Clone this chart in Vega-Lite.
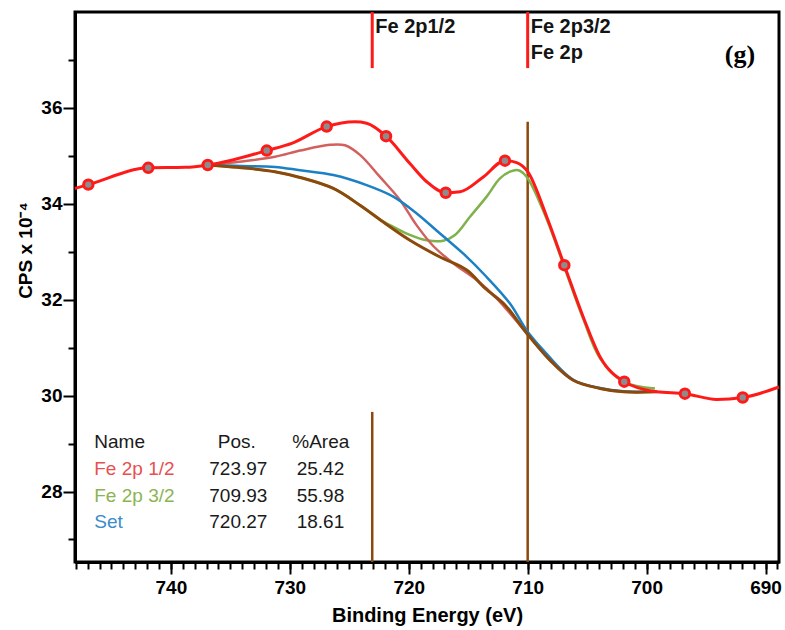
{
"$schema":"https://vega.github.io/schema/vega-lite/v6.json",
"width":704,"height":550,"autosize":"none",
"padding":{"left":75,"top":12,"right":6,"bottom":68},
"background":"white",
"config":{"view":{"stroke":"black","strokeWidth":3},
 "axis":{"labelFont":"Liberation Sans","titleFont":"Liberation Sans","labelColor":"black","titleColor":"black","tickColor":"black","domainColor":"black","grid":false}},
"datasets":{
 "env":[{"E":748.06,"V":34.32},{"E":746.94,"V":34.40},{"E":741.90,"V":34.75},{"E":738.81,"V":34.76},{"E":736.90,"V":34.81},{"E":734.89,"V":34.91},{"E":731.94,"V":35.11},{"E":729.84,"V":35.26},{"E":726.90,"V":35.61},{"E":724.52,"V":35.71},{"E":723.54,"V":35.68},{"E":721.91,"V":35.41},{"E":719.90,"V":34.84},{"E":718.49,"V":34.46},{"E":716.89,"V":34.23},{"E":715.69,"V":34.25},{"E":713.73,"V":34.56},{"E":711.91,"V":34.90},{"E":710.93,"V":34.86},{"E":709.97,"V":34.66},{"E":708.40,"V":33.73},{"E":706.92,"V":32.72},{"E":705.33,"V":31.64},{"E":703.92,"V":30.81},{"E":701.88,"V":30.29},{"E":699.15,"V":30.08},{"E":696.78,"V":30.04},{"E":694.11,"V":29.92},{"E":691.92,"V":29.96},{"E":688.87,"V":30.18}],
 "markers":[{"E":746.94,"V":34.40},{"E":741.90,"V":34.75},{"E":736.90,"V":34.81},{"E":731.94,"V":35.11},{"E":726.90,"V":35.61},{"E":721.91,"V":35.41},{"E":716.89,"V":34.23},{"E":711.91,"V":34.90},{"E":706.92,"V":32.72},{"E":701.88,"V":30.29},{"E":696.78,"V":30.04},{"E":691.92,"V":29.96}],
 "p12":[{"E":736.90,"V":34.81},{"E":734.05,"V":34.88},{"E":731.25,"V":34.98},{"E":729.14,"V":35.11},{"E":726.62,"V":35.23},{"E":725.36,"V":35.22},{"E":724.10,"V":35.02},{"E":722.42,"V":34.56},{"E":720.74,"V":34.08},{"E":719.33,"V":33.55},{"E":717.94,"V":33.12},{"E":716.26,"V":32.76},{"E":714.29,"V":32.41},{"E":712.61,"V":32.03},{"E":710.08,"V":31.30},{"E":708.13,"V":30.74},{"E":706.17,"V":30.32},{"E":703.92,"V":30.15},{"E":701.96,"V":30.08},{"E":699.15,"V":30.08}],
 "p32":[{"E":736.90,"V":34.81},{"E":733.49,"V":34.74},{"E":731.25,"V":34.67},{"E":729.14,"V":34.55},{"E":726.34,"V":34.32},{"E":724.10,"V":33.97},{"E":722.14,"V":33.63},{"E":721.30,"V":33.52},{"E":720.17,"V":33.38},{"E":718.49,"V":33.24},{"E":717.10,"V":33.23},{"E":716.11,"V":33.35},{"E":714.85,"V":33.73},{"E":713.45,"V":34.15},{"E":712.33,"V":34.53},{"E":711.49,"V":34.67},{"E":710.79,"V":34.70},{"E":710.08,"V":34.56},{"E":708.40,"V":33.68},{"E":706.92,"V":32.68},{"E":705.33,"V":31.60},{"E":703.92,"V":30.78},{"E":701.88,"V":30.28},{"E":699.30,"V":30.15}],
 "set":[{"E":736.90,"V":34.81},{"E":734.05,"V":34.79},{"E":731.25,"V":34.77},{"E":729.14,"V":34.70},{"E":726.34,"V":34.60},{"E":723.54,"V":34.39},{"E":721.30,"V":34.15},{"E":719.33,"V":33.80},{"E":717.37,"V":33.38},{"E":715.41,"V":32.96},{"E":713.59,"V":32.51},{"E":711.49,"V":31.92},{"E":710.08,"V":31.36},{"E":708.69,"V":30.95},{"E":706.17,"V":30.33},{"E":703.92,"V":30.16},{"E":701.96,"V":30.09},{"E":699.15,"V":30.08}],
 "bg":[{"E":736.90,"V":34.81},{"E":733.49,"V":34.74},{"E":731.25,"V":34.67},{"E":729.14,"V":34.55},{"E":726.34,"V":34.32},{"E":724.10,"V":33.97},{"E":722.14,"V":33.62},{"E":719.90,"V":33.24},{"E":717.37,"V":32.89},{"E":715.13,"V":32.62},{"E":713.59,"V":32.24},{"E":711.91,"V":31.89},{"E":710.08,"V":31.30},{"E":708.13,"V":30.74},{"E":706.17,"V":30.32},{"E":703.92,"V":30.15},{"E":701.96,"V":30.08},{"E":699.15,"V":30.08}],
 "brownRules":[{"E":723.07,"V1":26.53,"V2":29.66},{"E":710.0,"V1":26.53,"V2":35.71}],
 "redRules":[{"E":723.07,"V1":38.0,"V2":36.83},{"E":710.0,"V1":38.0,"V2":36.83}],
 "peaks":[{"E":723.07,"V":37.555,"label":"Fe 2p1/2"},{"E":710.0,"V":37.555,"label":"Fe 2p3/2"},{"E":710.0,"V":37.01,"label":"Fe 2p"}],
 "tag":[{"E":692.15,"V":36.94,"label":"(g)"}],
 "table":[
  {"E":746.44,"V":28.90,"text":"Name","kind":"plain"},
  {"E":736.06,"V":28.90,"text":"Pos.","kind":"plain"},
  {"E":729.79,"V":28.90,"text":"%Area","kind":"plain"},
  {"E":746.44,"V":28.34,"text":"Fe 2p 1/2","kind":"Fe 2p 1/2"},
  {"E":736.77,"V":28.34,"text":"723.97","kind":"plain"},
  {"E":729.42,"V":28.34,"text":"25.42","kind":"plain"},
  {"E":746.44,"V":27.78,"text":"Fe 2p 3/2","kind":"Fe 2p 3/2"},
  {"E":736.77,"V":27.78,"text":"709.93","kind":"plain"},
  {"E":729.42,"V":27.78,"text":"55.98","kind":"plain"},
  {"E":746.44,"V":27.23,"text":"Set","kind":"Set"},
  {"E":736.77,"V":27.23,"text":"720.27","kind":"plain"},
  {"E":729.42,"V":27.23,"text":"18.61","kind":"plain"}]
},
"encoding":{
 "x":{"field":"E","type":"quantitative","scale":{"domain":[688.87,748.06],"reverse":true,"nice":false,"zero":false},"axis":null},
 "y":{"field":"V","type":"quantitative","scale":{"domain":[26.53,38.0],"nice":false,"zero":false},"axis":null}
},
"layer":[
 {"data":{"name":"brownRules"},"mark":{"type":"rule","color":"#8b4a0c","strokeWidth":2.5},
  "encoding":{
   "x":{"field":"E","type":"quantitative","scale":{"domain":[688.87,748.06],"reverse":true,"nice":false,"zero":false},
        "axis":{"orient":"bottom","values":[690,700,710,720,730,740],"format":"d","title":"Binding Energy (eV)","tickSize":12,"tickWidth":2,"labelFontSize":19,"labelFontWeight":"bold","labelPadding":4,"titleFontSize":20,"titleFontWeight":"bold","titlePadding":8,"domain":true,"domainWidth":3}},
   "y":{"field":"V1","type":"quantitative","scale":{"domain":[26.53,38.0],"nice":false,"zero":false},
        "axis":{"orient":"left","values":[28,30,32,34,36],"format":"d","title":"CPS x 10⁻⁴","tickSize":12,"tickWidth":2,"labelFontSize":19,"labelFontWeight":"bold","labelPadding":1,"titleFontSize":19,"titleFontWeight":"bold","titlePadding":5,"titleY":238,"domain":true,"domainWidth":3}},
   "y2":{"field":"V2"}}},
 {"data":{"name":"redRules"},"mark":{"type":"rule","color":"#ff1a1a","strokeWidth":3},
  "encoding":{
   "x":{"field":"E","type":"quantitative","scale":{"domain":[688.87,748.06],"reverse":true,"nice":false,"zero":false},
        "axis":{"orient":"bottom","values":[689,690,691,692,693,694,695,696,697,698,699,700,701,702,703,704,705,706,707,708,709,710,711,712,713,714,715,716,717,718,719,720,721,722,723,724,725,726,727,728,729,730,731,732,733,734,735,736,737,738,739,740,741,742,743,744,745,746,747,748],"tickSize":7,"tickWidth":2,"labels":false,"domain":false,"title":null}},
   "y":{"field":"V1","type":"quantitative","scale":{"domain":[26.53,38.0],"nice":false,"zero":false},
        "axis":{"orient":"left","values":[27,29,31,33,35,37],"tickSize":7,"tickWidth":2,"labels":false,"domain":false,"title":null}},
   "y2":{"field":"V2"}}},
 {"data":{"name":"p32"},"mark":{"type":"line","color":"#7fb24a","strokeWidth":2.5,"interpolate":"catmull-rom"},"encoding":{}},
 {"data":{"name":"p12"},"mark":{"type":"line","color":"#d2605e","strokeWidth":2.5,"interpolate":"catmull-rom"},"encoding":{}},
 {"data":{"name":"set"},"mark":{"type":"line","color":"#1c80c4","strokeWidth":2.5,"interpolate":"catmull-rom"},"encoding":{}},
 {"data":{"name":"bg"},"mark":{"type":"line","color":"#8b4a0c","strokeWidth":3,"interpolate":"catmull-rom"},"encoding":{}},
 {"data":{"name":"env"},"mark":{"type":"line","color":"#ff1a1a","strokeWidth":3,"interpolate":"monotone"},"encoding":{}},
 {"data":{"name":"markers"},"mark":{"type":"point","shape":"circle","filled":true,"fill":"#8c8c8c","stroke":"#ff1a1a","strokeWidth":3,"size":90,"opacity":1},"encoding":{}},
 {"data":{"name":"peaks"},"mark":{"type":"text","align":"left","baseline":"alphabetic","dx":3,"font":"Liberation Sans","fontWeight":"bold","fontSize":20,"color":"#141414"},
  "encoding":{"text":{"field":"label"}}},
 {"data":{"name":"tag"},"mark":{"type":"text","align":"center","baseline":"alphabetic","font":"Liberation Serif","fontWeight":"bold","fontSize":26,"color":"black"},
  "encoding":{"text":{"field":"label"}}},
 {"data":{"name":"table"},"mark":{"type":"text","align":"left","baseline":"alphabetic","font":"Liberation Sans","fontSize":19},
  "encoding":{"text":{"field":"text"},
   "color":{"field":"kind","type":"nominal","legend":null,"scale":{"domain":["plain","Fe 2p 1/2","Fe 2p 3/2","Set"],"range":["#1a1a1a","#e8504e","#8cb450","#3c8cc8"]}}}}
],
"resolve":{"axis":{"x":"independent","y":"independent"}}
}
